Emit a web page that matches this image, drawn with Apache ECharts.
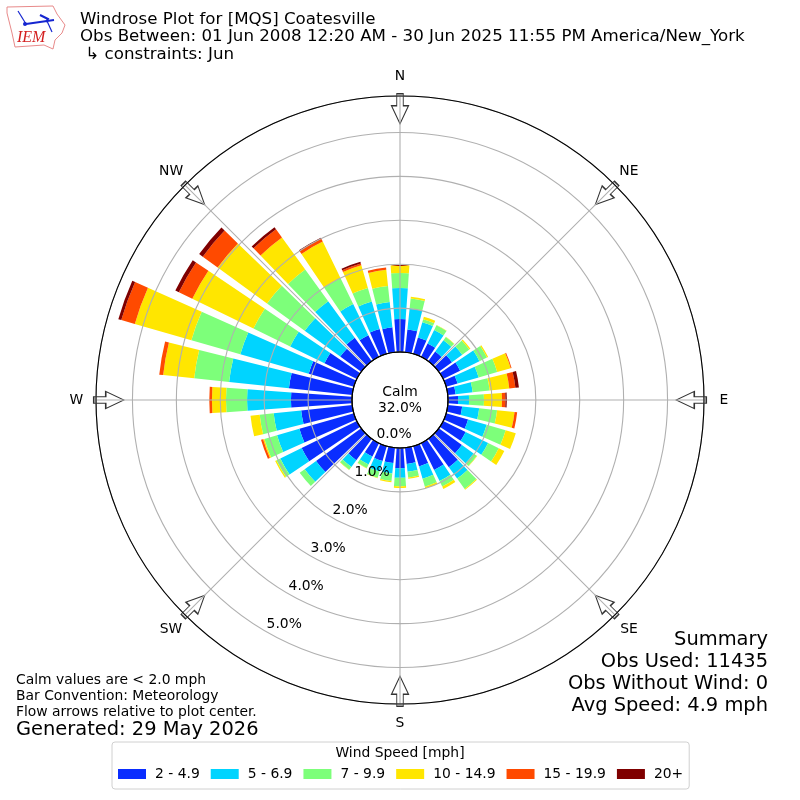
<!DOCTYPE html>
<html>
<head>
<meta charset="utf-8">
<style>html,body{margin:0;padding:0;background:#fff}#c{width:800px;height:800px}</style>
<script src="https://cdn.jsdelivr.net/npm/echarts@6/dist/echarts.min.js"></script>
</head>
<body>
<div id="c"></div>
<script>
const directions = [0,10,20,30,40,50,60,70,80,90,100,110,120,130,140,150,160,170,180,190,200,210,220,230,240,250,260,270,280,290,300,310,320,330,340,350];
const speedNames = ['2 - 4.9','5 - 6.9','7 - 9.9','10 - 14.9','15 - 19.9','20+'];
const speedColors = ['#0a2dff','#00d4ff','#7dff7a','#ffe600','#ff4a00','#7f0000'];
const s2to5   = [.75,.52,.39,.34,.27,.37,.43,.27,.18,.23,.33,.52,.57,.65,.80,.68,.48,.37,.46,.35,.35,.34,.60,1.27,1.40,1.29,1.17,1.39,1.45,1.07,.82,.59,.66,.55,.59,.57];
const s5to7   = [.71,.49,.36,.34,.32,.29,.49,.50,.39,.25,.39,.44,.57,.33,.32,.28,.29,.18,.22,.24,.25,.20,.19,.32,.54,.53,.63,1.00,1.37,1.62,.87,1.00,1.03,.79,.65,.58];
const s7to10  = [.34,.22,.07,.12,.09,.20,.19,.44,.39,.34,.41,.45,.27,.09,.29,.14,.19,.13,.19,.17,.15,.09,.08,.14,.10,.30,.32,.48,.80,1.16,.93,1.06,.89,.66,.32,.37];
const s10to15 = [.18,.04,.06,.01,.01,.03,.03,.32,.45,.41,.40,.24,.14,.01,.02,.06,.04,.03,.04,.03,.01,.01,.01,0,.03,.03,.21,.32,.71,1.34,1.55,1.39,.90,.92,.54,.37];
const s15to20 = [0,0,0,0,0,0,0,.02,.14,.08,.06,0,0,0,0,0,0,0,0,0,0,0,0,0,0,.05,0,.06,.09,.32,.34,.42,.23,.08,.04,.05];
const s20plus = [0,0,0,0,0,0,0,0,.08,.03,0,0,0,0,0,0,0,0,0,0,0,0,0,0,0,0,0,0,0,.07,.09,.10,.06,.02,.04,0];
const speedSeries = [s2to5,s5to7,s7to10,s10to15,s15to20,s20plus];
const compassNames = ['N','NE','E','SE','S','SW','W','NW'];
const compassAngles = [0,45,90,135,180,225,270,315];
const ringValues = [0,1,2,3,4,5];
const radialMax = 5.83;
const gridColor = '#b0b0b0';
const FONT = 'DejaVu Sans';

const arrow = 'path://M5.25 0 H11.75 V12 H17 L8.5 30 L0 12 H5.25 Z';

const bars = speedNames.map((name,i)=>({
  name, type:'bar', coordinateSystem:'polar', polarIndex:0, stack:'speed',
  barWidth:'80%', data:speedSeries[i], itemStyle:{color:speedColors[i]}, silent:true, z:2
}));

const txt = (text,x,y,size,align)=>({type:'text',x,y,z:30,silent:true,
  style:{text,fill:'#000',font:size+'px "'+FONT+'"',textAlign:align||'left',textVerticalAlign:'middle'}});

const chart = echarts.init(document.getElementById('c'),null,{renderer:'canvas'});
chart.setOption({
  animation:false,
  backgroundColor:'#fff',
  polar:[
    {center:[400,400],radius:[48,304]},
    {center:[400,400],radius:[48,304]}
  ],
  angleAxis:[
    {polarIndex:0,type:'category',data:directions,startAngle:95,clockwise:true,boundaryGap:true,
     axisLine:{show:false},axisTick:{show:false},axisLabel:{show:false},splitLine:{show:false},z:0},
    {polarIndex:1,type:'value',min:0,max:360,interval:45,startAngle:90,clockwise:true,z:5,
     axisLine:{show:true,lineStyle:{color:'#000',width:1.1}},axisTick:{show:false},
     axisLabel:{show:false},
     splitLine:{show:true,lineStyle:{color:gridColor,width:1.1}},minorTick:{show:false}}
  ],
  radiusAxis:[
    {polarIndex:0,type:'value',min:0,max:radialMax,axisLine:{show:false},axisTick:{show:false},axisLabel:{show:false},splitLine:{show:false}},
    {polarIndex:1,type:'value',min:0,max:radialMax,interval:1,z:5,axisLine:{show:false},axisTick:{show:false},axisLabel:{show:false},
     splitLine:{show:true,lineStyle:{color:gridColor,width:1.1,type:'solid'}}}
  ],
  legend:{
    data:speedNames,left:112,top:742,orient:'horizontal',icon:'rect',itemWidth:28,itemHeight:10,itemGap:11,
    padding:[25,6,8,6],backgroundColor:'#fff',borderColor:'#d0d0d0',borderWidth:1,borderRadius:3,selectedMode:false,
    textStyle:{color:'#000',fontSize:13.89,fontFamily:FONT,padding:[0,0,0,4]}
  },
  series:[
    ...bars,
    {type:'scatter',coordinateSystem:'polar',polarIndex:1,silent:true,z:4,clip:false,
     symbol:arrow,symbolSize:[17,30],symbolRotate:(v)=>-v[1],symbolKeepAspect:false,
     itemStyle:{color:'#fff',borderColor:'#333',borderWidth:1.2,opacity:1},
     data:compassAngles.map(a=>[5.54,a])},
    {type:'scatter',coordinateSystem:'polar',polarIndex:1,silent:true,z:8,clip:false,symbolSize:0,
     itemStyle:{color:'#000'},
     label:{show:true,position:'inside',color:'#000',opacity:1,fontSize:13.89,fontFamily:FONT,
            formatter:p=>compassNames[p.dataIndex]},
     data:compassAngles.map(a=>[6.28,a])},
    {type:'scatter',coordinateSystem:'polar',polarIndex:1,silent:true,z:8,symbolSize:0,
     itemStyle:{color:'#000'},
     label:{show:true,position:'inside',offset:[18,-7],color:'#000',opacity:1,fontSize:13.89,fontFamily:FONT,
            formatter:p=>p.value[0].toFixed(1)+'%'},
     data:ringValues.map(r=>[r,210])}
  ],
  graphic:[
    {type:'circle',shape:{cx:400,cy:400,r:48},z:20,silent:true,style:{fill:'rgba(0,0,0,0)',stroke:'#000',lineWidth:1.2}},
    txt('Windrose Plot for [MQS] Coatesville',80,20,16.67),
    txt('Obs Between: 01 Jun 2008 12:20 AM - 30 Jun 2025 11:55 PM America/New_York',80,37,16.67),
    txt(' \u21b3 constraints: Jun',80,55,16.67),
    txt('Calm',400,392,13.89,'center'),
    txt('32.0%',400,408,13.89,'center'),
    txt('Calm values are < 2.0 mph',16,680,13.89),
    txt('Bar Convention: Meteorology',16,696,13.89),
    txt('Flow arrows relative to plot center.',16,712,13.89),
    txt('Generated: 29 May 2026',16,730,19.44),
    txt('Summary',768,640,19.44,'right'),
    txt('Obs Used: 11435',768,662,19.44,'right'),
    txt('Obs Without Wind: 0',768,684,19.44,'right'),
    txt('Avg Speed: 4.9 mph',768,706,19.44,'right'),
    txt('Wind Speed [mph]',400,753,13.89,'center'),
    // IEM logo
    {type:'polygon',z:30,silent:true,shape:{points:[[7,7],[53,6],[57,14],[65,25],[62,33],[55,40],[53,49],[44,45],[15,47],[12,33],[7,13]]},
     style:{fill:'#fff',stroke:'#e88a8a',lineWidth:1}},
    {type:'polyline',z:31,silent:true,shape:{points:[[26,24],[54,20]]},style:{stroke:'#1525d0',lineWidth:2,fill:'none'}},
    {type:'polyline',z:31,silent:true,shape:{points:[[26,24],[18,11]]},style:{stroke:'#1525d0',lineWidth:1.2,fill:'none'}},
    {type:'polyline',z:31,silent:true,shape:{points:[[40,15],[48,19],[46,22]]},style:{stroke:'#1525d0',lineWidth:2,fill:'none'}},
    {type:'polyline',z:31,silent:true,shape:{points:[[47,21],[52,32]]},style:{stroke:'#1525d0',lineWidth:1.2,fill:'none'}},
    {type:'circle',z:31,silent:true,shape:{cx:25,cy:24,r:2},style:{fill:'#1525d0'}},
    {type:'text',x:17,y:38,z:31,silent:true,style:{text:'IEM',fill:'#d42020',font:'italic 16px "Liberation Serif"',textVerticalAlign:'middle'}}
  ]
});
</script>
</body>
</html>
